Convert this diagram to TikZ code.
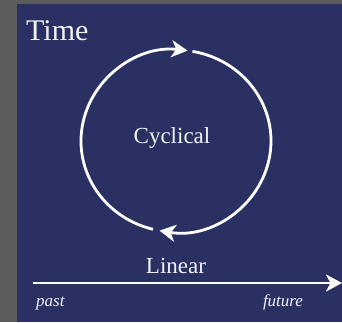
\documentclass[tikz,border=0pt]{standalone}
\usepackage{fontspec}
\setmainfont{Liberation Serif}
\usetikzlibrary{arrows.meta}
\definecolor{frame}{RGB}{92,92,92}
\definecolor{navy}{RGB}{42,48,98}
\begin{document}
\begin{tikzpicture}[
  x=1pt, y=1pt,
  every node/.style={text=white!94!navy, inner sep=0pt},
  flow/.style={draw=white, line width=2.8pt, -{Stealth[length=16pt, width=17pt, inset=4.5pt]}},
  label/.style={font=\fontsize{23}{25}\selectfont, anchor=base},
  side/.style={font=\fontsize{17}{19}\selectfont\itshape, anchor=base}
]
\fill[frame] (0,0) rectangle (342,322);
\fill[navy] (17,0) rectangle (342,318);
\useasboundingbox (0,0) rectangle (342,322);
\node[anchor=base west, font=\fontsize{30}{32}\selectfont] (time) at (26,281) {Time};
\coordinate (hub) at (176,181);
\node[label] (cyc) at (172,179) {Cyclical};
\draw[flow] ([shift={(256:95pt and 91pt)}]hub) arc[start angle=256, end angle=83, x radius=95pt, y radius=91pt];
\draw[flow] ([shift={(80:95pt and 91pt)}]hub) arc[start angle=80, end angle=-100, x radius=95pt, y radius=91pt];
\coordinate (start) at (33,39);
\coordinate (end) at (342,39);
\draw[flow] (start) -- (end);
\node[label] (lin) at (176,49) {Linear};
\node[side, anchor=base west] (past) at (36,16) {past};
\node[side] (future) at (283,16) {future};
\end{tikzpicture}
\end{document}
